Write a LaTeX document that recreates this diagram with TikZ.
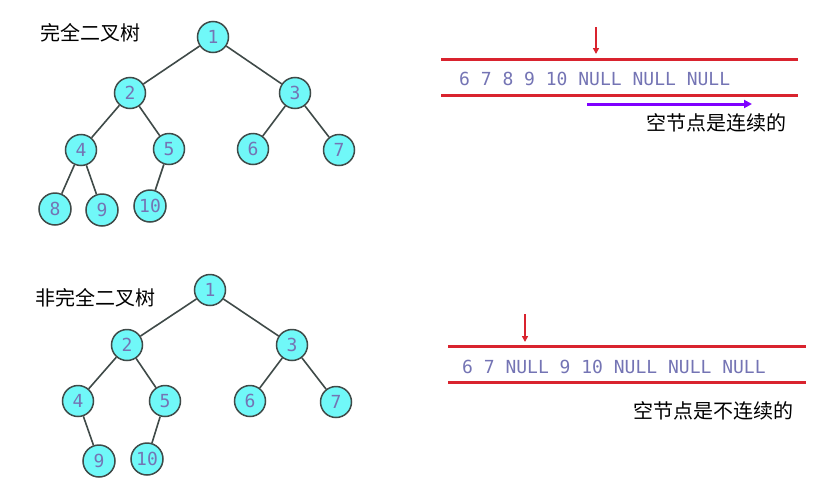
\documentclass[tikz,border=0pt]{standalone}
\usepackage{fontspec}
\setmainfont{Liberation Sans}
\setmonofont{DejaVu Sans Mono}
\newfontfamily\cjk{Noto Sans CJK SC}
\usetikzlibrary{arrows.meta}
\definecolor{nodefill}{HTML}{70F8F8}
\definecolor{edgegray}{HTML}{3F4A48}
\definecolor{numcol}{HTML}{7474B4}
\definecolor{redline}{HTML}{D9232E}
\definecolor{purp}{HTML}{7F00FF}
\tikzset{
  tn/.style={circle, draw=edgegray, line width=1.5pt, fill=nodefill, minimum size=31pt, inner sep=0pt,
    font=\fontsize{18}{18}\selectfont\ttfamily, text=numcol},
  ed/.style={draw=edgegray, line width=1.6pt},
  cn/.style={font=\fontsize{20}{20}\selectfont\cjk, text=black, inner sep=0pt},
  arr/.style={font=\fontsize{18}{18}\selectfont\ttfamily, text=numcol, inner sep=0pt, anchor=west},
  rl/.style={draw=redline, line width=3pt},
  ra/.style={draw=redline, line width=2pt, -{Triangle[length=6pt,width=6pt]}},
}
\begin{document}
\begin{tikzpicture}[x=1pt,y=-1pt]
\useasboundingbox (0,0) rectangle (827,493);
% Tree 1
\node[cn, anchor=west] (t1) at (40,33) {完全二叉树};
\node[tn] (a1) at (213,37) {1};
\node[tn] (a2) at (130,93) {2};
\node[tn] (a3) at (295,93) {3};
\node[tn] (a4) at (81,150) {4};
\node[tn] (a5) at (169,149) {5};
\node[tn] (a6) at (253,149) {6};
\node[tn] (a7) at (339,150) {7};
\node[tn, minimum size=32pt] (a8) at (55,209) {8};
\node[tn, minimum size=32pt] (a9) at (102,210) {9};
\node[tn, minimum size=32pt] (a10) at (150,206) {10};
\draw[ed] (a1)--(a2) (a1)--(a3) (a2)--(a4) (a2)--(a5) (a3)--(a6) (a3)--(a7) (a4)--(a8) (a4)--(a9) (a5)--(a10);
% Tree 2
\node[cn, anchor=west] (t2) at (35,298) {非完全二叉树};
\node[tn] (b1) at (210,290) {1};
\node[tn] (b2) at (127,345) {2};
\node[tn] (b3) at (292,345) {3};
\node[tn] (b4) at (78,401) {4};
\node[tn] (b5) at (165,401) {5};
\node[tn] (b6) at (250,401) {6};
\node[tn] (b7) at (336,402) {7};
\node[tn, minimum size=32pt] (b9) at (99,461) {9};
\node[tn, minimum size=32pt] (b10) at (147,459) {10};
\draw[ed] (b1)--(b2) (b1)--(b3) (b2)--(b4) (b2)--(b5) (b3)--(b6) (b3)--(b7) (b4)--(b9) (b5)--(b10);
% Array 1
\coordinate (l1a) at (441,59); \coordinate (l1b) at (798,59);
\coordinate (l2a) at (441,95); \coordinate (l2b) at (798,95);
\draw[rl] (l1a)--(l1b);
\draw[rl] (l2a)--(l2b);
\node[arr] (s1) at (459,79) {6 7 8 9 10 NULL NULL NULL};
\coordinate (r1a) at (596,27); \coordinate (r1b) at (596,54);
\draw[ra] (r1a)--(r1b);
\coordinate (p1a) at (587,104); \coordinate (p1b) at (752,104);
\draw[draw=purp, line width=3pt, -{Triangle[length=8pt,width=8pt]}] (p1a)--(p1b);
\node[cn, anchor=west] (c1) at (646,123) {空节点是连续的};
% Array 2
\coordinate (m1a) at (448,346); \coordinate (m1b) at (806,346);
\coordinate (m2a) at (448,382); \coordinate (m2b) at (806,382);
\draw[rl] (m1a)--(m1b);
\draw[rl] (m2a)--(m2b);
\node[arr] (s2) at (462,367) {6 7 NULL 9 10 NULL NULL NULL};
\coordinate (r2a) at (525,314); \coordinate (r2b) at (525,342);
\draw[ra] (r2a)--(r2b);
\node[cn, anchor=west] (c2) at (633,411) {空节点是不连续的};
\end{tikzpicture}
\end{document}
